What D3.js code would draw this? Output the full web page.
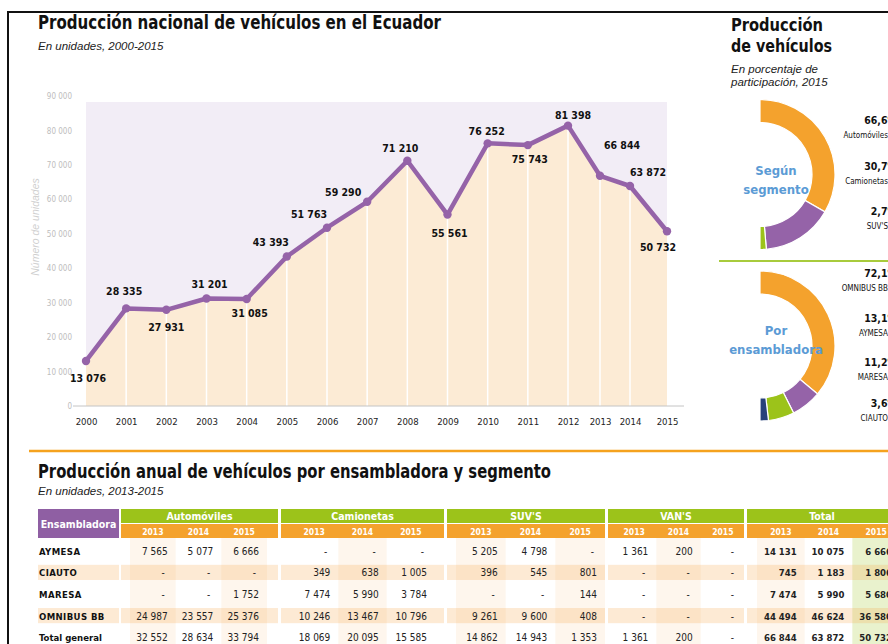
<!DOCTYPE html>
<html>
<head>
<meta charset="utf-8">
<script src="https://cdn.jsdelivr.net/npm/d3@7"></script>
<style>
  html, body { margin: 0; padding: 0; background: #fff; }
  svg { display: block; }
</style>
</head>
<body>
<div id="chart"></div>
<script>
(function() {
    'use strict';

    // ---- data ----
    var years = [2000, 2001, 2002, 2003, 2004, 2005, 2006, 2007, 2008, 2009, 2010, 2011, 2012, 2013, 2014, 2015];
    var production = [13076, 28335, 27931, 31201, 31085, 43393, 51763, 59290, 71210, 55561, 76252, 75743, 81398, 66844, 63872, 50732];
    var yTickValues = [0, 10000, 20000, 30000, 40000, 50000, 60000, 70000, 80000, 90000];

    var segmentNames = ["Automóviles", "Camionetas", "SUV'S"];
    var segmentShares = [66.6, 30.7, 2.7];
    var assemblerNames = ["OMNIBUS BB", "AYMESA", "MARESA", "CIAUTO"];
    var assemblerShares = [72.1, 13.1, 11.2, 3.6];

    var tableGroups = ["Automóviles", "Camionetas", "SUV'S", "VAN'S", "Total"];
    var tableYears = ["2013", "2014", "2015"];
    var tableRows = ["AYMESA", "CIAUTO", "MARESA", "OMNIBUS BB", "Total general"];
    // 15 values per row: group by group, 2013-2015 (null = "-")
    var aymesaValues   = [7565, 5077, 6666,   null, null, null,   5205, 4798, null,  1361, 200, null,  14131, 10075, 6666];
    var ciautoValues   = [null, null, null,   349, 638, 1005,     396, 545, 801,     null, null, null,  745, 1183, 1806];
    var maresaValues   = [null, null, 1752,   7474, 5990, 3784,   null, null, 144,   null, null, null,  7474, 5990, 5680];
    var omnibusValues  = [24987, 23557, 25376, 10246, 13467, 10796, 9261, 9600, 408, null, null, null,  44494, 46624, 36580];
    var totalValues    = [32552, 28634, 33794, 18069, 20095, 15585, 14862, 14943, 1353, 1361, 200, null, 66844, 63872, 50732];
    var tableValues = [aymesaValues, ciautoValues, maresaValues, omnibusValues, totalValues];

    // ---- look ----
    var narrow = '"Liberation Sans Narrow", "Arial Narrow", "DejaVu Sans Condensed", sans-serif';
    var sans = '"Liberation Sans", Arial, sans-serif';
    var purple = "#9563a8", orange = "#f4a22d", green = "#9cc31a", navy = "#27417a", peach = "#fcebd5", lavender = "#f2edf6", blue = "#5b9bd5";

    // where each value label sits relative to its point
    var labelOffsets = [[2, 21], [-2, -13], [0, 21], [3, -11], [3, 18], [-16, -11], [-18, -10], [-24, -6],
                        [-7, -9], [2, 22], [-1, -8], [2, 18], [5, -7], [22, -27], [18, -10], [-9, 20]];

    var loc = d3.formatLocale({decimal: ",", thousands: " ", grouping: [3], currency: ["", ""]});
    var fmt = loc.format(",");
    var pct = function(v) { return loc.format(".1f")(v) + "%"; };

    var svg = d3.select("#chart").append("svg")
        .attr("width", 888)
        .attr("height", 644);

    // frame lines
    svg.append("line").attr("x1", 8).attr("x2", 888).attr("y1", 12).attr("y2", 12)
        .attr("stroke", "#111").attr("stroke-width", 2);
    svg.append("line").attr("x1", 8).attr("x2", 8).attr("y1", 11).attr("y2", 644)
        .attr("stroke", "#111").attr("stroke-width", 2);
    svg.append("line").attr("x1", 29).attr("x2", 888).attr("y1", 451).attr("y2", 451)
        .attr("stroke", "#f5a21e").attr("stroke-width", 2.5);
    svg.append("line").attr("x1", 719).attr("x2", 888).attr("y1", 261).attr("y2", 261)
        .attr("stroke", "#a8cb3c").attr("stroke-width", 2);

    // ================= line chart =================
    svg.append("text")
        .attr("x", 38).attr("y", 29)
        .attr("textLength", 403).attr("lengthAdjust", "spacingAndGlyphs")
        .style("font-family", narrow).style("font-weight", "bold").style("font-size", "19px").style("fill", "#111")
        .text("Producción nacional de vehículos en el Ecuador");
    svg.append("text")
        .attr("x", 38).attr("y", 50)
        .style("font-family", sans).style("font-style", "italic").style("font-size", "11.5px").style("fill", "#222")
        .text("En unidades, 2000-2015");

    var x = d3.scaleLinear().domain([2000, 2012, 2013, 2014, 2015]).range([86, 568, 600, 630, 667]);
    var y = d3.scaleLinear().domain([0, 90000]).range([406, 96]);

    var series = years.map(function(yr, i) { return {year: yr, value: production[i], off: labelOffsets[i]}; });

    // plot background
    svg.append("rect")
        .attr("x", x(2000)).attr("y", 102)
        .attr("width", x(2015) - x(2000)).attr("height", y(0) - 102)
        .attr("fill", lavender);

    // area under the line
    svg.append("path")
        .datum(series)
        .attr("fill", peach)
        .attr("d", d3.area()
            .x(function(d) { return x(d.year); })
            .y0(y(0))
            .y1(function(d) { return y(d.value); }));

    // white year lines
    svg.selectAll(".yearline")
        .data(series.slice(1, -1))
      .enter().append("line")
        .attr("class", "yearline")
        .attr("x1", function(d) { return x(d.year); })
        .attr("x2", function(d) { return x(d.year); })
        .attr("y1", function(d) { return y(d.value); })
        .attr("y2", y(0))
        .attr("stroke", "#fff").attr("stroke-width", 1.5);

    // baseline
    svg.append("line")
        .attr("x1", 73).attr("x2", 684).attr("y1", y(0)).attr("y2", y(0))
        .attr("stroke", "#c4c4c4").attr("stroke-width", 1);

    // y-axis
    var yAxis = svg.append("g")
        .attr("transform", "translate(73,0)")
        .call(d3.axisLeft(y).tickValues(yTickValues).tickSize(0).tickPadding(1).tickFormat(fmt));
    yAxis.select(".domain").remove();
    yAxis.selectAll("text")
        .style("font-family", narrow).style("font-size", "8px").style("fill", "#bdbdbd");

    svg.append("text")
        .attr("transform", "translate(39,227) rotate(-90)")
        .attr("text-anchor", "middle")
        .style("font-family", sans).style("font-style", "italic").style("font-size", "10.5px").style("fill", "#cfcfcf")
        .text("Número de unidades");

    // x-axis
    var xAxis = svg.append("g")
        .attr("transform", "translate(0," + y(0) + ")")
        .call(d3.axisBottom(x).tickValues(years).tickSize(0).tickPadding(12).tickFormat(d3.format("d")));
    xAxis.select(".domain").remove();
    xAxis.selectAll("text")
        .style("font-family", narrow).style("font-size", "9.5px").style("fill", "#222");

    // line + dots
    svg.append("path")
        .datum(series)
        .attr("fill", "none")
        .attr("stroke", purple)
        .attr("stroke-width", 4.5)
        .attr("stroke-linejoin", "round")
        .attr("d", d3.line()
            .x(function(d) { return x(d.year); })
            .y(function(d) { return y(d.value); }));

    svg.selectAll(".dot")
        .data(series)
      .enter().append("circle")
        .attr("class", "dot")
        .attr("r", 4.2)
        .attr("cx", function(d) { return x(d.year); })
        .attr("cy", function(d) { return y(d.value); })
        .attr("fill", purple);

    svg.selectAll(".vlabel")
        .data(series)
      .enter().append("text")
        .attr("class", "vlabel")
        .attr("x", function(d) { return x(d.year) + d.off[0]; })
        .attr("y", function(d) { return y(d.value) + d.off[1]; })
        .attr("text-anchor", "middle")
        .style("font-family", narrow).style("font-weight", "bold").style("font-size", "10.5px")
        .style("fill", "#111")
        .text(function(d) { return fmt(d.value); });

    // ================= donuts =================
    svg.append("text")
        .attr("x", 731).attr("y", 31)
        .attr("textLength", 92).attr("lengthAdjust", "spacingAndGlyphs")
        .style("font-family", narrow).style("font-weight", "bold").style("font-size", "18px").style("fill", "#111")
        .text("Producción");
    svg.append("text")
        .attr("x", 731).attr("y", 52)
        .attr("textLength", 101).attr("lengthAdjust", "spacingAndGlyphs")
        .style("font-family", narrow).style("font-weight", "bold").style("font-size", "18px").style("fill", "#111")
        .text("de vehículos");
    svg.append("text")
        .attr("x", 731).attr("y", 73)
        .style("font-family", sans).style("font-style", "italic").style("font-size", "11.5px").style("fill", "#222")
        .text("En porcentaje de");
    svg.append("text")
        .attr("x", 731).attr("y", 86)
        .style("font-family", sans).style("font-style", "italic").style("font-size", "11.5px").style("fill", "#222")
        .text("participación, 2015");

    var pie = d3.pie().sort(null).startAngle(0).endAngle(Math.PI);
    var arc = d3.arc().innerRadius(52).outerRadius(75);

    function donut(cx, cy, names, shares, colors, title, titleY, labelYs) {
        var g = svg.append("g").attr("transform", "translate(" + cx + "," + cy + ")");
        g.selectAll("path")
            .data(pie(shares))
          .enter().append("path")
            .attr("d", arc)
            .attr("fill", function(d, i) { return colors[i]; })
            .attr("stroke", "#fff").attr("stroke-width", 1.2);

        g.selectAll(".ctitle")
            .data(title)
          .enter().append("text")
            .attr("class", "ctitle")
            .attr("x", 16)
            .attr("y", function(d, i) { return titleY + i * 19; })
            .attr("text-anchor", "middle")
            .style("font-family", narrow).style("font-weight", "bold").style("font-size", "13px")
            .style("fill", blue)
            .text(function(d) { return d; });

        var lab = svg.selectAll(null)
            .data(names)
          .enter().append("g")
            .attr("transform", function(d, i) { return "translate(0," + labelYs[i] + ")"; });
        lab.append("text")
            .attr("x", 897)
            .attr("text-anchor", "end")
            .style("font-family", narrow).style("font-weight", "bold").style("font-size", "10.5px")
            .style("fill", "#111")
            .text(function(d, i) { return pct(shares[i]); });
        lab.append("text")
            .attr("x", 888).attr("y", 14)
            .attr("text-anchor", "end")
            .style("font-family", narrow).style("font-size", "8px").style("fill", "#111")
            .text(function(d) { return d; });
    }

    donut(760, 174.5, segmentNames, segmentShares, [orange, purple, green],
          ["Según", "segmento"], 0, [124, 170, 215]);
    donut(760, 346, assemblerNames, assemblerShares, [orange, purple, green, navy],
          ["Por", "ensambladora"], -11, [277, 322, 366, 407]);

    // ================= table =================
    svg.append("text")
        .attr("x", 38).attr("y", 478)
        .attr("textLength", 513).attr("lengthAdjust", "spacingAndGlyphs")
        .style("font-family", narrow).style("font-weight", "bold").style("font-size", "19px").style("fill", "#111")
        .text("Producción anual de vehículos por ensambladora y segmento");
    svg.append("text")
        .attr("x", 38).attr("y", 495)
        .style("font-family", sans).style("font-style", "italic").style("font-size", "11.5px").style("fill", "#222")
        .text("En unidades, 2013-2015");

    // group spans (left, right) and the inner band range used by the year columns
    var groupSpan = d3.scaleOrdinal().domain(tableGroups)
        .range([[121, 278], [281, 444], [447, 605], [608, 744], [747, 900]]);
    var groupInner = d3.scaleOrdinal().domain(tableGroups)
        .range([[130, 267], [290, 435], [456, 605], [612, 745], [757, 900]]);
    var rowY = d3.scaleBand().domain(tableRows).range([540, 648]).paddingInner(0.3).paddingOuter(0.15);

    var columns = [];
    tableGroups.forEach(function(g) {
        var band = d3.scaleBand().domain(tableYears).range(groupInner(g));
        tableYears.forEach(function(yr) {
            columns.push({group: g, year: yr, x0: band(yr), w: band.bandwidth()});
        });
    });

    // column shading (every other column), last total column green
    svg.selectAll(".colshade")
        .data(columns.filter(function(c, i) { return i % 2 === 0; }))
      .enter().append("rect")
        .attr("class", "colshade")
        .attr("x", function(d) { return d.x0; })
        .attr("y", 538)
        .attr("width", function(d) { return d.w; })
        .attr("height", 110)
        .attr("fill", function(d) { return d.group === "Total" && d.year === "2015" ? "rgba(156,195,26,0.22)" : "rgba(245,160,60,0.09)"; });

    // row shading for CIAUTO and OMNIBUS BB
    var shadeRows = [tableRows[1], tableRows[3]];
    var segs = [[38, 119]].concat(tableGroups.map(function(g) { return groupSpan(g); }));
    shadeRows.forEach(function(r) {
        svg.selectAll(null)
            .data(segs)
          .enter().append("rect")
            .attr("x", function(d) { return d[0]; })
            .attr("y", rowY(r))
            .attr("width", function(d) { return d[1] - d[0]; })
            .attr("height", rowY.bandwidth())
            .attr("fill", "rgba(245,160,60,0.22)");
    });

    // header
    svg.append("rect").attr("x", 38).attr("y", 509).attr("width", 81).attr("height", 29).attr("fill", "#8f5fa3");
    svg.append("text")
        .attr("x", 78.5).attr("y", 527.5)
        .attr("text-anchor", "middle")
        .style("font-family", narrow).style("font-weight", "bold").style("font-size", "10.5px")
        .style("fill", "#fff")
        .text("Ensambladora");

    var head = svg.selectAll(".ghead")
        .data(tableGroups)
      .enter().append("g")
        .attr("class", "ghead");
    head.append("rect")
        .attr("x", function(d) { return groupSpan(d)[0]; })
        .attr("y", 509)
        .attr("width", function(d) { return groupSpan(d)[1] - groupSpan(d)[0]; })
        .attr("height", 14)
        .attr("fill", green);
    head.append("rect")
        .attr("x", function(d) { return groupSpan(d)[0]; })
        .attr("y", 524)
        .attr("width", function(d) { return groupSpan(d)[1] - groupSpan(d)[0]; })
        .attr("height", 14)
        .attr("fill", orange);
    head.append("text")
        .attr("x", function(d) { return d === "Total" ? 822 : (groupSpan(d)[0] + groupSpan(d)[1]) / 2; })
        .attr("y", 520)
        .attr("text-anchor", "middle")
        .style("font-family", narrow).style("font-weight", "bold").style("font-size", "10.5px")
        .style("fill", "#fff")
        .text(function(d) { return d; });

    svg.selectAll(".yhead")
        .data(columns)
      .enter().append("text")
        .attr("class", "yhead")
        .attr("x", function(d) { return d.x0 + d.w / 2; })
        .attr("y", 535)
        .attr("text-anchor", "middle")
        .style("font-family", narrow).style("font-weight", "bold").style("font-size", "8.5px")
        .style("fill", "#fff")
        .text(function(d) { return d.year; });

    // row labels
    svg.selectAll(".rlabel")
        .data(tableRows)
      .enter().append("text")
        .attr("class", "rlabel")
        .attr("x", 39)
        .attr("y", function(d) { return rowY(d) + rowY.bandwidth() / 2 + 4; })
        .style("font-family", narrow).style("font-weight", "bold").style("font-size", "9.5px")
        .style("letter-spacing", function(d) { return d === "Total general" ? "0px" : "0.4px"; })
        .style("fill", "#111")
        .text(function(d) { return d; });

    // cells
    tableRows.forEach(function(r, ri) {
        svg.selectAll(null)
            .data(tableValues[ri])
          .enter().append("text")
            .attr("x", function(d, i) { return columns[i].x0 + columns[i].w - (d === null ? 11 : 8); })
            .attr("y", rowY(r) + rowY.bandwidth() / 2 + 4)
            .attr("text-anchor", "end")
            .style("font-family", narrow)
            .style("font-size", function(d, i) { return columns[i].group === "Total" ? "9.5px" : "10px"; })
            .style("font-weight", function(d, i) { return columns[i].group === "Total" ? "bold" : "normal"; })
            .style("fill", "#222")
            .text(function(d) { return d === null ? "-" : fmt(d); });
    });
})();
</script>
</body>
</html>
